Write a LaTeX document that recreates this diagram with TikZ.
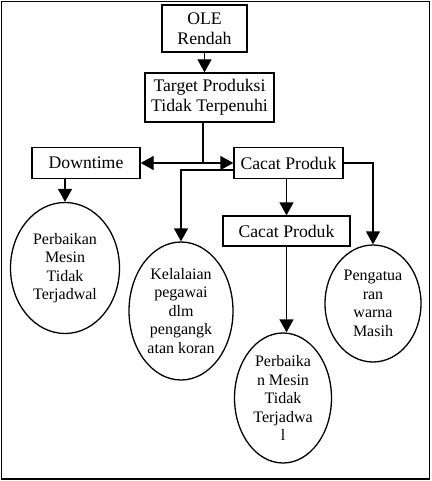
\documentclass[tikz,border=0pt]{standalone}
\usepackage{fontspec}
\setmainfont{Liberation Serif}
\usetikzlibrary{shapes.geometric, arrows.meta}

\begin{document}
\begin{tikzpicture}[x=1pt, y=-1pt, line width=1.3pt, >={Triangle[width=14pt,length=13pt]},
        kotak/.style={draw, rectangle, align=center, inner sep=2pt, font=\fontsize{17.7}{20}\selectfont},
        elips/.style={draw, ellipse, align=center, inner sep=0pt, font=\fontsize{16}{18.5}\selectfont}]
        \useasboundingbox (0,0) rectangle (431,481);
        \draw (1.5,1.5) rectangle (429.5,479);

        \node[kotak, minimum width=85pt, minimum height=47pt] (ole) at (204.5,28.5) {OLE \\ Rendah};
        \node[kotak, minimum width=129pt, minimum height=49pt] (target) at (209.5,97.5) {Target Produksi \\ Tidak Terpenuhi};
        \node[kotak, minimum width=108pt, minimum height=31pt] (downtime) at (86,163) {Downtime};
        \node[kotak, minimum width=109pt, minimum height=31pt] (cacatA) at (288.5,163) {Cacat Produk};
        \node[kotak, minimum width=127pt, minimum height=30pt] (cacatB) at (286.5,231) {Cacat Produk};

        \node[elips, minimum width=109pt, minimum height=131pt] (perbaikanA) at (65,268) {Perbaikan \\ Mesin \\ Tidak \\ Terjadwal};
        \node[elips, minimum width=104pt, minimum height=138pt] (kelalaian) at (181,311) {Kelalaian \\ pegawai \\ dlm \\ pengangk \\ atan koran};
        \node[elips, minimum width=97pt, minimum height=130pt] (perbaikanB) at (283,398) {Perbaika \\ n Mesin \\ Tidak \\ Terjadwa \\ l};
        \node[elips, minimum width=96pt, minimum height=117pt] (pengaturan) at (373,303.5) {Pengatua \\ ran \\ warna \\ Masih};

        \coordinate (cabang) at (203,163);

        \draw[->] (ole.south) -- (ole.south |- target.north);
        \draw (target.south -| cabang) -- (cabang);
        \draw[->] (cabang) -- (downtime.east);
        \draw[->] (cabang) -- (cacatA.west);
        \draw[->] ([yshift=-7pt]cacatA.west) -| (kelalaian.north);
        \draw[->] (cacatA.east) -| (pengaturan.north);
        \draw[->] (perbaikanA.north |- downtime.south) -- (perbaikanA.north);
        \draw[->] (cacatB.north |- cacatA.south) -- (cacatB.north);
        \draw[->] (cacatB.south) -- (cacatB.south |- perbaikanB.north);
    \end{tikzpicture}
\end{document}
